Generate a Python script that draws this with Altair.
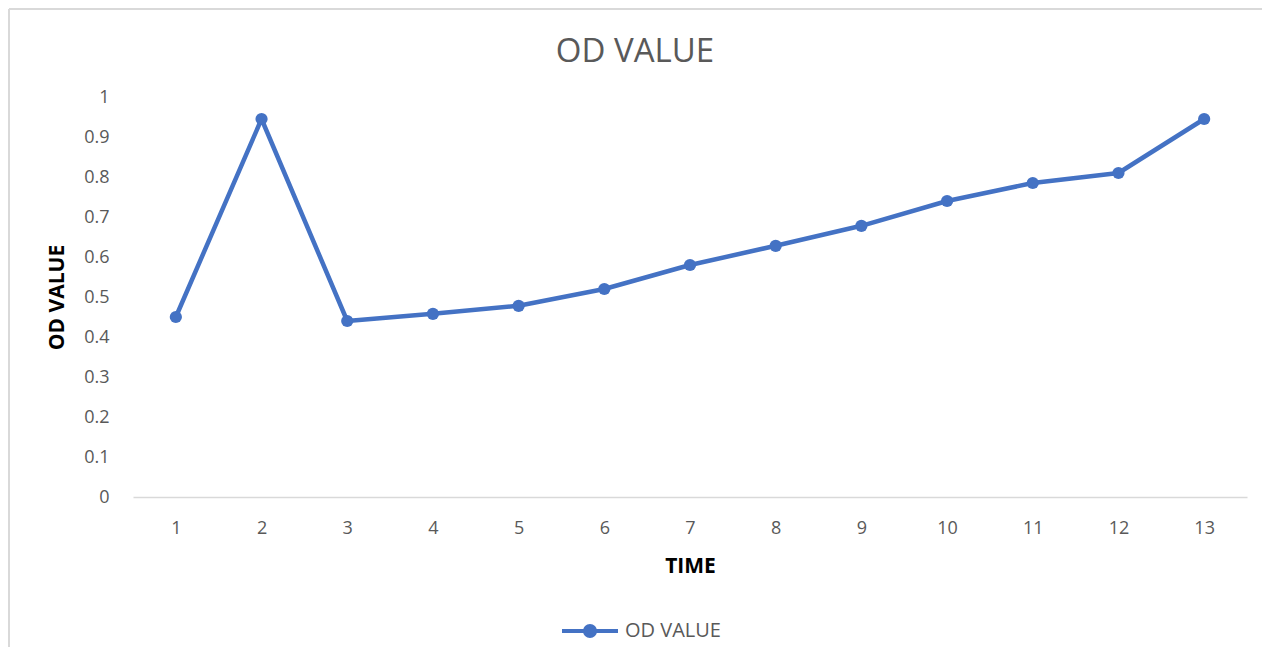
import altair as alt
import pandas as pd

time_labels = ["1", "2", "3", "4", "5", "6", "7", "8", "9", "10", "11", "12", "13"]
od_values = [0.45, 0.945, 0.44, 0.458, 0.478, 0.52, 0.58, 0.628, 0.678, 0.74, 0.785, 0.81, 0.945]
series_name = "OD VALUE"
y_ticks = [0, 0.1, 0.2, 0.3, 0.4, 0.5, 0.6, 0.7, 0.8, 0.9, 1]

df = pd.DataFrame({"TIME": time_labels, "OD": od_values, "series": [series_name] * len(od_values)})

BLUE = "#4472C4"
GREY_TXT = "#595959"
FONT = "Open Sans"

W, H = 1114, 400

sym_path = "M-1,0L1,0M0.18,0A0.18,0.18,0,1,1,-0.18,0A0.18,0.18,0,1,1,0.18,0Z"

color = alt.Color(
    "series:N",
    scale=alt.Scale(domain=[series_name], range=[BLUE]),
    legend=alt.Legend(
        title=None,
        orient="none",
        legendX=427,
        legendY=504,
        symbolType=sym_path,
        symbolSize=3136,
        symbolStrokeWidth=4,
        symbolFillColor=BLUE,
        symbolStrokeColor=BLUE,
        labelFont=FONT,
        labelFontSize=20,
        labelColor=GREY_TXT,
        labelOffset=5,
        padding=0,
    ),
)

x = alt.X(
    "TIME:O",
    sort=time_labels,
    scale=alt.Scale(type="point", padding=0.5),
    axis=alt.Axis(
        title="TIME",
        labelAngle=0,
        labelFont=FONT,
        labelFontSize=18,
        labelColor=GREY_TXT,
        labelPadding=22,
        ticks=False,
        domainColor="#d9d9d9",
        domainWidth=1.5,
        grid=False,
        titleFont=FONT,
        titleFontSize=21,
        titleFontWeight="bold",
        titleColor="#000000",
        titlePadding=18,
    ),
)

y = alt.Y(
    "OD:Q",
    scale=alt.Scale(domain=[0, 1], nice=False),
    axis=alt.Axis(
        title="OD VALUE",
        values=y_ticks,
        format="~g",
        labelFont=FONT,
        labelFontSize=18,
        labelColor=GREY_TXT,
        labelPadding=24,
        ticks=False,
        domain=False,
        grid=False,
        titleFont=FONT,
        titleFontSize=21,
        titleFontWeight="bold",
        titleColor="#000000",
        titlePadding=16,
    ),
)

line = alt.Chart(df).mark_line(
    strokeWidth=4.5, strokeCap="round", strokeJoin="round",
    point=alt.OverlayMarkDef(filled=True, size=150, color=BLUE),
).encode(x=x, y=y, color=color)

border_data = alt.Data(values=[{"b": 1}])
border_left = alt.Chart(border_data).mark_rule(color="#d9d9d9", strokeWidth=2).encode(
    x=alt.value(-124), y=alt.value(-88), y2=alt.value(560)
)
border_top = alt.Chart(border_data).mark_rule(color="#d9d9d9", strokeWidth=2).encode(
    x=alt.value(-124), x2=alt.value(1130), y=alt.value(-88)
)

chart = alt.layer(border_left, border_top, line).properties(
    width=W,
    height=H,
    background="white",
    title=alt.TitleParams(
        text="OD VALUE",
        font=FONT,
        fontSize=33,
        fontWeight="normal",
        color=GREY_TXT,
        anchor="middle",
        frame="group",
        dx=-55,
        dy=81,
        offset=20,
    ),
    autosize=alt.AutoSizeParams(type="none"),
    padding={"left": 125, "top": 89, "right": 15, "bottom": 150},
).configure_view(stroke=None)

chart.save("out.html", embed_options={"renderer": "svg", "actions": False})
